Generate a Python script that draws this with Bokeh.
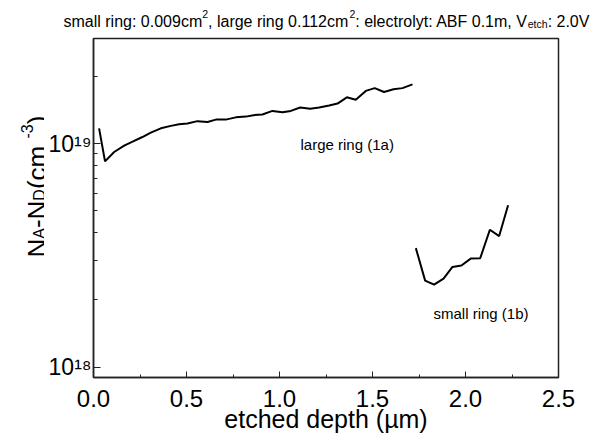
import math
from bokeh.plotting import figure
from bokeh.layouts import column, row
from bokeh.models import Label, SingleIntervalTicker, FixedTicker, CustomJSTickFormatter, Range1d
from bokeh.embed import file_html
from bokeh.resources import INLINE

# ---- data ----
large_depth = [0.030, 0.062, 0.111, 0.165, 0.210, 0.263, 0.308, 0.362, 0.416, 0.460,
               0.505, 0.559, 0.613, 0.658, 0.711, 0.765, 0.819, 0.860, 0.908, 0.962,
               1.016, 1.061, 1.111, 1.165, 1.213, 1.267, 1.312, 1.362, 1.410, 1.464,
               1.512, 1.562, 1.613, 1.661, 1.715]
large_conc = [1.17e19, 8.33e18, 9.17e18, 9.80e18, 1.02e19, 1.07e19, 1.12e19, 1.17e19, 1.20e19, 1.22e19,
              1.23e19, 1.26e19, 1.25e19, 1.28e19, 1.28e19, 1.31e19, 1.32e19, 1.34e19, 1.35e19, 1.40e19,
              1.38e19, 1.40e19, 1.45e19, 1.43e19, 1.45e19, 1.48e19, 1.51e19, 1.61e19, 1.57e19, 1.72e19,
              1.77e19, 1.70e19, 1.75e19, 1.77e19, 1.84e19]
small_depth = [1.733, 1.783, 1.831, 1.882, 1.930, 1.978, 2.028, 2.079, 2.131, 2.181, 2.229]
small_conc = [3.41e18, 2.44e18, 2.34e18, 2.49e18, 2.81e18, 2.85e18, 3.06e18, 3.07e18, 4.12e18, 3.86e18, 5.30e18]

x_range = (0.0, 2.5)
y_range = (9.0e17, 2.95e19)
x_ticks_labels = ["0.0", "0.5", "1.0", "1.5", "2.0", "2.5"]
y_major = [1e18, 1e19]
y_minor = [9e17, 2e18, 3e18, 4e18, 5e18, 6e18, 7e18, 8e18, 9e18, 2e19]
y_ticks_labels = ["10\u00b9\u2078", "10\u00b9\u2079"]
series_labels = ["large ring (1a)", "small ring (1b)"]
x_title = "etched depth (\u00b5m)"

FONT = "Liberation Sans"
W, H = 596, 441
TH = 30                 # title strip height
LW = 44                 # left strip width (y title)
MW, MH = W - LW, H - TH
BL, BR, BT, BB = 49, 38, 8, 64
FL = LW + BL            # page x of main frame left
FT = TH + BT
FB = H - BB

AW = {' ': 278, '(': 333, ')': 333, '-': 333, '.': 278, ':': 278, ',': 278,
      'A': 667, 'B': 667, 'D': 722, 'F': 611, 'N': 722, 'V': 667,
      'a': 556, 'b': 556, 'c': 500, 'e': 556, 'g': 556, 'h': 556, 'i': 222, 'l': 222,
      'm': 833, 'n': 556, 'o': 556, 'p': 556, 'r': 333, 's': 500, 't': 278, 'y': 500,
      'd': 556, '\u00b5': 576}
def tw(s, size):
    return sum(AW.get(c, 556) for c in s) / 1000.0 * size


# ---------------- main plot ----------------
yr = Range1d(*y_range)
p = figure(width=MW, height=MH, output_backend="svg", toolbar_location=None,
           y_axis_type="log", x_range=x_range, y_range=yr,
           min_border_left=BL, min_border_right=BR, min_border_top=BT, min_border_bottom=BB,
           title=None)
p.background_fill_color = "white"
p.border_fill_color = "white"
p.outline_line_color = "#222222"
p.outline_line_width = 1.5
p.grid.visible = False

p.line(large_depth, large_conc, line_color="black", line_width=2)
p.line(small_depth, small_conc, line_color="black", line_width=2)

xa = p.xaxis[0]
xa.ticker = SingleIntervalTicker(interval=0.5, num_minor_ticks=2)
xa.formatter = CustomJSTickFormatter(args=dict(labels=x_ticks_labels),
                                     code="const i = Math.round(tick*2); return (i >= 0 && i < labels.length) ? labels[i] : tick.toFixed(1);")
xa.major_label_text_font = FONT
xa.major_label_text_font_size = "24px"
xa.major_label_text_color = "black"
xa.major_label_standoff = 12
xa.major_tick_in = 6
xa.major_tick_out = 0
xa.minor_tick_in = 3
xa.minor_tick_out = 0
xa.axis_label = x_title
xa.axis_label_text_font = FONT
xa.axis_label_text_font_size = "25px"
xa.axis_label_text_font_style = "normal"
xa.axis_label_text_color = "black"
xa.axis_label_standoff = -5
xa.axis_line_color = "#222222"
xa.axis_line_width = 1.5
xa.major_tick_line_color = "#222222"
xa.minor_tick_line_color = "#222222"

ya = p.yaxis[0]
ya.ticker = FixedTicker(ticks=y_major, minor_ticks=y_minor)
ya.formatter = CustomJSTickFormatter(args=dict(labels=y_ticks_labels),
                                     code="return tick < 5e18 ? labels[0] : labels[1];")
ya.major_label_text_font = FONT
ya.major_label_text_font_size = "23px"
ya.major_label_text_color = "black"
ya.major_label_standoff = 2
ya.major_tick_in = 7
ya.major_tick_out = 0
ya.minor_tick_in = 4
ya.minor_tick_out = 0
ya.axis_line_color = "#222222"
ya.axis_line_width = 1.5
ya.major_tick_line_color = "#222222"
ya.minor_tick_line_color = "#222222"

def put_main(text, px, py, size):
    p.add_layout(Label(x=x_range[0], y=y_range[0], x_offset=px - FL, y_offset=FB - py,
                       text=text, text_font=FONT, text_font_size=f"{size}px",
                       text_color="black", text_align="left", text_baseline="middle"))

put_main(series_labels[0], 300, 143.5, 15)
put_main(series_labels[1], 433, 313, 15)

# ---------------- helpers for text strips ----------------
def label(f, text, x, y, size, dx=0.0, dy=0.0, align="left", baseline="alphabetic", angle=0.0):
    f.add_layout(Label(x=x, y=y, x_offset=dx, y_offset=dy, text=text, text_font=FONT,
                       text_font_size=f"{size}px", text_color="black",
                       text_align=align, text_baseline=baseline, angle=angle))

# ---------------- title strip ----------------
tf = figure(width=W, height=TH, output_backend="svg", toolbar_location=None,
            x_range=Range1d(0, W), y_range=Range1d(TH, 0), min_border=0,
            x_axis_location=None, y_axis_location=None, title=None)
tf.outline_line_color = None
tf.grid.visible = False

T, S = 16, 10.5
pos = 63.0
for text, size, shift in [("small ring: 0.009cm", T, 0), ("2", S, -7), (", large ring 0.112cm", T, 0),
                          ("2", S, -7), (": electrolyt: ABF 0.1m, V", T, 0), ("etch", S, 3),
                          (": 2.0V", T, 0)]:
    label(tf, text, pos, 20.7 + shift, size)
    pos += tw(text, size)

# ---------------- left strip (y title, shares the log y scale) ----------------
lf = figure(width=LW, height=MH, output_backend="svg", toolbar_location=None,
            x_range=Range1d(0, LW), y_range=yr, y_axis_type="log",
            min_border_left=0, min_border_right=0, min_border_top=BT, min_border_bottom=BB,
            x_axis_location=None, y_axis_location=None, title=None)
lf.outline_line_color = None
lf.grid.visible = False

pos = 0.0
for text, size, shift in [("N", 26, 0), ("A", 16, 3), ("-", 26, 0), ("N", 26, 0), ("D", 16, 3),
                          (" (cm", 26, 0), ("-3", 16, -10), (")", 26, 0)]:
    label(lf, text, 36 + shift, y_range[0], size, dy=(FB - 257) + pos, angle=math.pi / 2)
    pos += tw(text, size)

layout = column(tf, row(lf, p, spacing=0), spacing=0)
open("out.html", "w").write(file_html(layout, INLINE))
